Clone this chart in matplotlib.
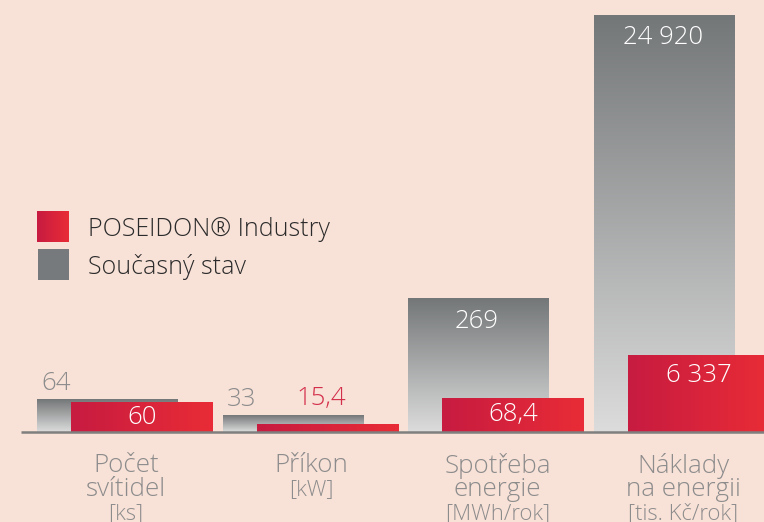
import numpy as np
import matplotlib
matplotlib.use("Agg")
import matplotlib.pyplot as plt
from matplotlib.colors import LinearSegmentedColormap

plt.rcParams['font.family'] = ['Open Sans', 'DejaVu Sans']
plt.rcParams['font.weight'] = 'light'

# data
categories = [["Počet", "svítidel"], ["Příkon"], ["Spotřeba", "energie"], ["Náklady", "na energii"]]
units = ["[ks]", "[kW]", "[MWh/rok]", "[tis. Kč/rok]"]
current_labels = ["64", "33", "269", "24 920"]
poseidon_labels = ["60", "15,4", "68,4", "6 337"]
# drawn heights (each category has its own scale in the infographic)
current_height = [33, 17, 134, 417]
poseidon_height = [30, 8, 34, 77]

BG = "#f8e1d7"
GRAY_TXT = "#8c8c8c"
RED_TXT = "#d42f4a"
gray_cmap = LinearSegmentedColormap.from_list("g", ["#dcdcdc", "#747778"])
red_cmap = LinearSegmentedColormap.from_list("r", ["#c71b41", "#e92c36"])

fig = plt.figure(figsize=(7.64, 5.22), dpi=100, facecolor=BG)
ax = fig.add_axes([0, 0, 1, 1])
ax.set_facecolor(BG)

centers = 126 + 185.7 * np.arange(len(categories))
gw, rw = 141, 142
vgrad = np.linspace(0, 1, 256)[:, None]
hgrad = np.linspace(0, 1, 256)[None, :]


def gradient_bar(x0, w, h, img, cmap):
    bar = ax.bar(x0, h, width=w, align='edge', color='none', linewidth=0)[0]
    im = ax.imshow(img, cmap=cmap, extent=(x0, x0 + w, 0, h), origin='lower',
                   aspect='auto', interpolation='bicubic', zorder=2)
    im.set_clip_path(bar)
    return bar


for i, c in enumerate(centers):
    gx = c - 89
    rx = c - 55
    gh, rh = current_height[i], poseidon_height[i]
    gradient_bar(gx, gw, gh, vgrad, gray_cmap)
    gradient_bar(rx, rw, rh, hgrad, red_cmap)

    # value labels
    if gh > 100:
        ax.text(gx + gw / 2 - 2, gh - 23, current_labels[i], ha='center', va='center',
                color='white', fontsize=18.5, zorder=5)
    else:
        ax.text(gx + 19, gh + 16, current_labels[i], ha='center', va='center',
                color=GRAY_TXT, fontsize=18.5, zorder=5)
    if rh >= 25:
        ax.text(rx + rw / 2, max(rh / 2, rh - 21), poseidon_labels[i], ha='center', va='center',
                color='white', fontsize=18.5, zorder=5)
    else:
        ax.text(rx + rw / 2 - 6, gh + 16, poseidon_labels[i], ha='center', va='center',
                color=RED_TXT, fontsize=18.5, zorder=5)

    # category labels
    lines = categories[i]
    for j, ln in enumerate(lines):
        ax.text(c, -34 - 24 * j, ln, ha='center', va='center', color=GRAY_TXT, fontsize=18.7)
    ax.text(c, -34 - 24 * len(lines), units[i], ha='center', va='center', color=GRAY_TXT, fontsize=15.8)

# baseline
ax.plot([21, 764], [0, 0], color="#7f7f7f", linewidth=1.8, zorder=4, solid_capstyle='butt')

# legend
ax.imshow(hgrad, cmap=red_cmap, extent=(37, 69, 190, 221), aspect='auto', zorder=3)
ax.add_patch(plt.Rectangle((38, 152), 31, 31, color="#767a7d", linewidth=0))
ax.text(88, 202, "POSEIDON® Industry", ha='left', va='center', color="#2b2b2b", fontsize=18)
ax.text(88, 165, "Současný stav", ha='left', va='center', color="#2b2b2b", fontsize=18)

ax.set_xlim(0, 764)
ax.set_ylim(-90, 432)
ax.axis('off')

fig.savefig("out.png", dpi=100, facecolor=BG)
